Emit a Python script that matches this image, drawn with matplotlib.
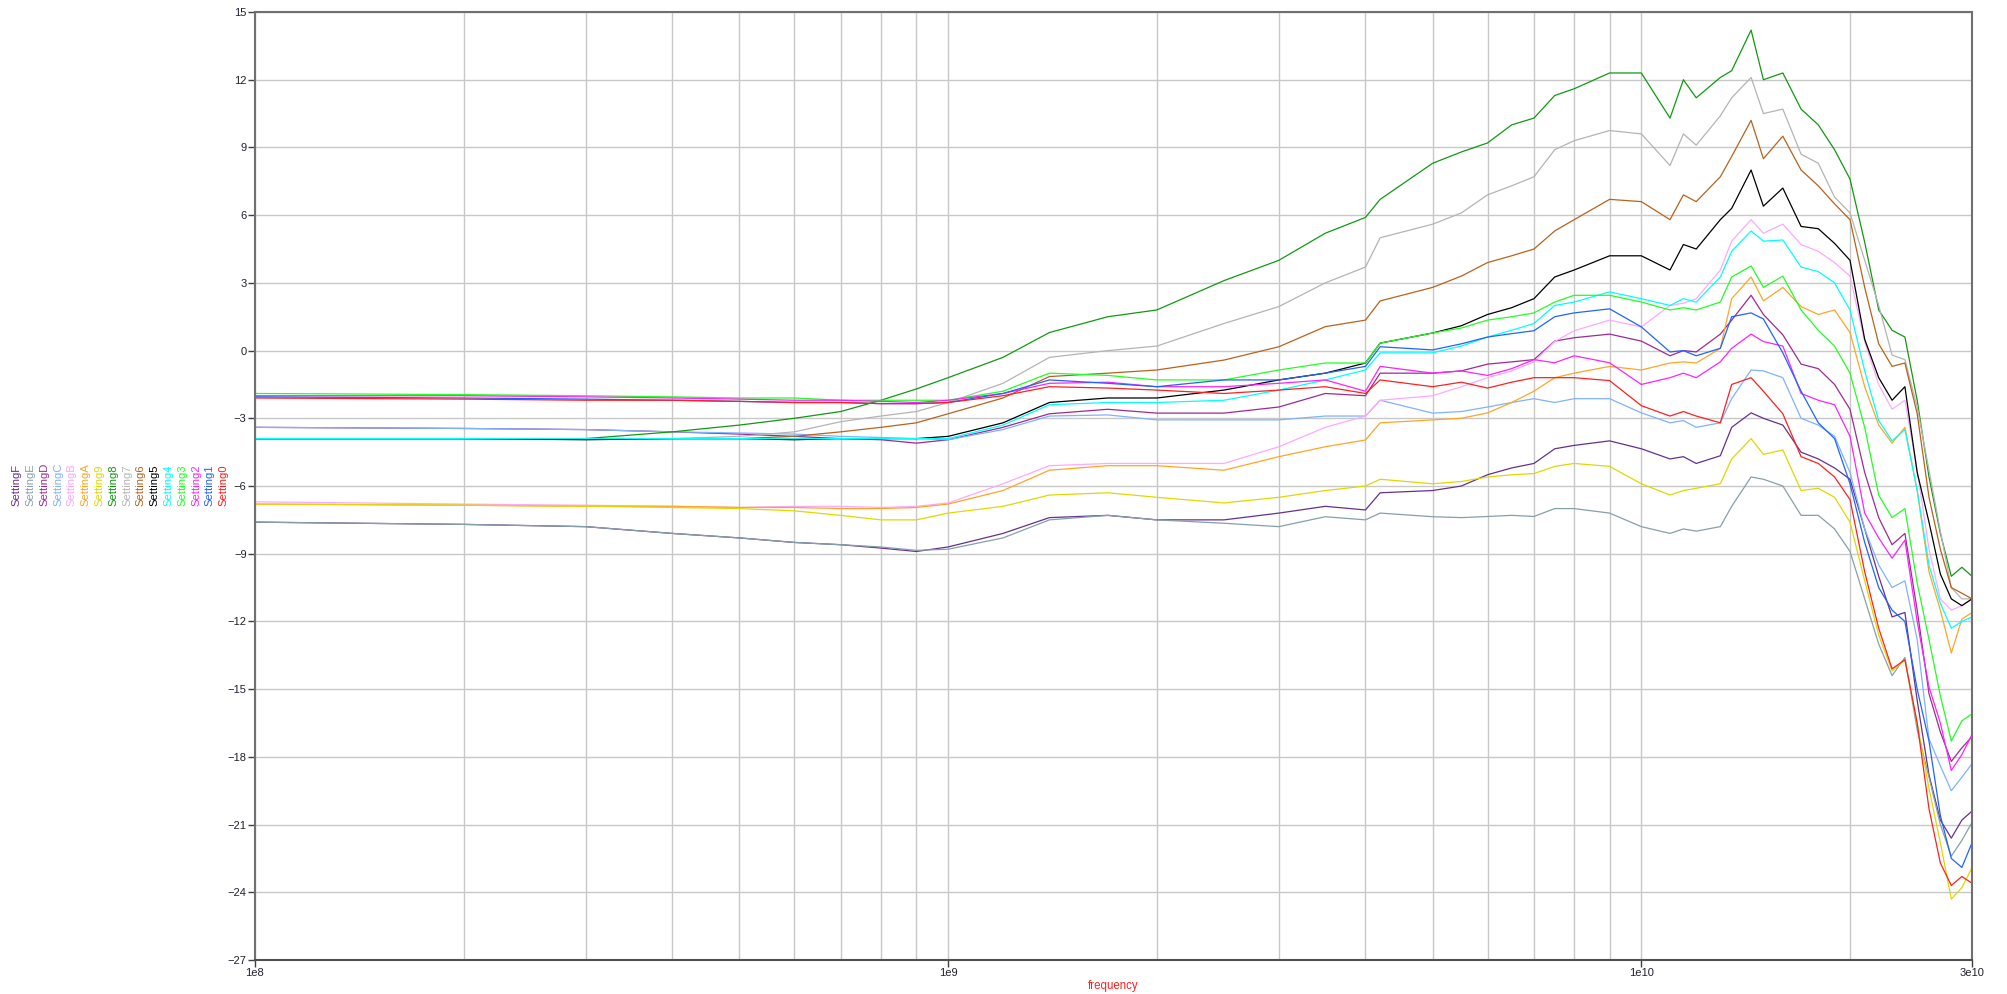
import numpy as np
import matplotlib.pyplot as plt
from matplotlib.ticker import FixedLocator, NullFormatter, LogLocator

plt.rcParams['font.family'] = ['Liberation Sans', 'DejaVu Sans']

# frequency nodes (GHz)
freq_ghz = [0.1, 0.2, 0.3, 0.4, 0.5, 0.6, 0.7, 0.8, 0.9, 1.0,
            1.2, 1.4, 1.7, 2.0, 2.5, 3.0, 3.5, 4.0, 4.2, 5.0,
            5.5, 6.0, 6.5, 7.0, 7.5, 8.0, 9.0, 10, 11, 11.5,
            12, 13, 13.5, 14.4, 15, 16, 17, 18, 19, 20,
            21, 22, 23, 24, 25, 26, 27, 28, 29, 30]

setting0 = [-2.1, -2.15, -2.2, -2.2, -2.25, -2.3, -2.3, -2.35, -2.35, -2.3,
            -2.0, -1.6, -1.66, -1.75, -1.9, -1.75, -1.6, -1.9, -1.3, -1.6,
            -1.4, -1.66, -1.4, -1.2, -1.2, -1.2, -1.33, -2.44, -2.9, -2.7,
            -2.9, -3.2, -1.5, -1.2, -1.8, -2.8, -4.7, -5.0, -5.6, -6.6,
            -9.8, -12.3, -14.1, -13.7, -16.5, -20.3, -22.7, -23.7, -23.3, -23.6]
setting1 = [-2.05, -2.1, -2.15, -2.2, -2.25, -2.3, -2.3, -2.35, -2.35, -2.3,
            -1.9, -1.3, -1.45, -1.6, -1.3, -1.3, -1.0, -0.7, 0.17, 0.03,
            0.3, 0.6, 0.75, 0.88, 1.5, 1.67, 1.85, 1.05, -0.06, 0.0,
            -0.23, 0.1, 1.5, 1.67, 1.4, -0.1, -1.8, -3.2, -3.9, -5.9,
            -8.5, -10.5, -11.5, -12.0, -15.0, -17.3, -20.6, -22.5, -22.9, -21.8]
setting2 = [-2.0, -2.0, -2.05, -2.1, -2.15, -2.2, -2.2, -2.25, -2.3, -2.2,
            -1.9, -1.45, -1.4, -1.6, -1.6, -1.45, -1.3, -1.8, -0.7, -1.0,
            -0.9, -1.1, -0.8, -0.4, -0.54, -0.23, -0.54, -1.5, -1.2, -1.0,
            -1.2, -0.5, 0.1, 0.73, 0.4, 0.2, -1.9, -2.2, -2.4, -3.8,
            -7.2, -8.3, -9.2, -8.4, -12.0, -14.9, -16.5, -18.6, -17.9, -17.0]
setting3 = [-1.9, -1.95, -2.0, -2.05, -2.1, -2.1, -2.2, -2.2, -2.2, -2.2,
            -1.8, -1.0, -1.1, -1.3, -1.3, -0.86, -0.55, -0.55, 0.33, 0.78,
            1.0, 1.35, 1.5, 1.67, 2.15, 2.45, 2.45, 2.15, 1.8, 1.9,
            1.8, 2.15, 3.26, 3.75, 2.8, 3.3, 1.8, 0.9, 0.2, -1.0,
            -3.4, -6.4, -7.4, -7.0, -10.3, -12.8, -15.3, -17.3, -16.4, -16.1]
setting4 = [-3.9, -3.9, -3.9, -3.9, -3.9, -3.9, -3.9, -3.9, -3.9, -3.9,
            -3.3, -2.4, -2.3, -2.3, -2.2, -1.75, -1.3, -0.86, -0.1, -0.1,
            0.2, 0.6, 0.9, 1.2, 2.0, 2.15, 2.6, 2.3, 2.0, 2.3,
            2.15, 3.26, 4.4, 5.3, 4.85, 4.9, 3.7, 3.5, 3.0, 1.8,
            -0.9, -3.1, -4.0, -3.5, -6.2, -9.5, -11.2, -12.3, -12.0, -11.8]
setting5 = [-3.9, -3.9, -3.95, -3.9, -3.9, -3.95, -3.9, -3.9, -3.9, -3.8,
            -3.2, -2.3, -2.1, -2.1, -1.75, -1.3, -1.0, -0.55, 0.33, 0.78,
            1.1, 1.6, 1.9, 2.3, 3.26, 3.57, 4.2, 4.2, 3.57, 4.7,
            4.5, 5.8, 6.3, 8.0, 6.4, 7.2, 5.5, 5.4, 4.75, 4.0,
            0.5, -1.2, -2.2, -1.6, -5.4, -7.6, -9.9, -11.0, -11.3, -11.0]
setting6 = [-3.9, -3.9, -3.9, -3.9, -3.9, -3.8, -3.6, -3.4, -3.2, -2.8,
            -2.1, -1.15, -1.0, -0.86, -0.42, 0.17, 1.06, 1.35, 2.2, 2.8,
            3.3, 3.9, 4.2, 4.5, 5.3, 5.8, 6.7, 6.6, 5.8, 6.9,
            6.6, 7.7, 8.6, 10.2, 8.5, 9.5, 8.0, 7.3, 6.5, 5.8,
            2.8, 0.3, -0.7, -0.55, -2.8, -6.5, -8.8, -10.5, -10.75, -11.0]
setting7 = [-3.9, -3.9, -3.9, -3.9, -3.8, -3.6, -3.15, -2.9, -2.7, -2.3,
            -1.45, -0.3, 0.0, 0.2, 1.2, 1.95, 3.0, 3.7, 5.0, 5.6,
            6.1, 6.9, 7.3, 7.7, 8.9, 9.3, 9.75, 9.6, 8.2, 9.6,
            9.1, 10.4, 11.2, 12.1, 10.5, 10.7, 8.7, 8.3, 6.8, 6.1,
            4.0, 2.0, -0.2, -0.4, -2.5, -5.3, -8.0, -10.5, -11.0, -11.0]
setting8 = [-3.9, -3.9, -3.9, -3.6, -3.3, -3.0, -2.7, -2.2, -1.7, -1.2,
            -0.3, 0.8, 1.5, 1.8, 3.1, 4.0, 5.2, 5.9, 6.7, 8.3,
            8.8, 9.2, 10.0, 10.3, 11.3, 11.6, 12.3, 12.3, 10.3, 12.0,
            11.2, 12.1, 12.4, 14.2, 12.0, 12.3, 10.7, 10.0, 8.9, 7.6,
            4.8, 1.8, 0.9, 0.6, -2.2, -5.6, -8.1, -10.0, -9.6, -10.0]
setting9 = [-6.8, -6.85, -6.9, -6.95, -7.0, -7.1, -7.3, -7.5, -7.5, -7.2,
            -6.9, -6.4, -6.3, -6.5, -6.75, -6.5, -6.2, -6.0, -5.7, -5.9,
            -5.8, -5.6, -5.5, -5.45, -5.13, -5.0, -5.13, -5.9, -6.4, -6.2,
            -6.1, -5.9, -4.8, -3.9, -4.6, -4.4, -6.2, -6.1, -6.5, -7.6,
            -10.2, -12.6, -14.2, -13.7, -16.5, -19.4, -21.8, -24.3, -23.8, -22.9]
settingA = [-6.8, -6.85, -6.9, -6.9, -6.95, -6.95, -7.0, -7.0, -6.95, -6.8,
            -6.2, -5.3, -5.1, -5.1, -5.3, -4.7, -4.26, -3.96, -3.2, -3.07,
            -3.0, -2.76, -2.3, -1.8, -1.2, -1.0, -0.7, -0.86, -0.55, -0.5,
            -0.55, 0.1, 2.3, 3.26, 2.2, 2.8, 1.95, 1.6, 1.8, 0.8,
            -1.6, -3.3, -4.1, -3.4, -6.2, -9.8, -11.5, -13.4, -11.9, -11.6]
settingB = [-6.7, -6.8, -6.85, -6.9, -6.95, -6.9, -6.9, -6.95, -6.9, -6.75,
            -5.9, -5.1, -5.0, -5.0, -5.0, -4.26, -3.4, -2.9, -2.2, -2.0,
            -1.6, -1.2, -0.9, -0.5, 0.4, 0.88, 1.35, 1.05, 2.0, 2.1,
            2.3, 3.57, 4.85, 5.8, 5.2, 5.6, 4.7, 4.4, 3.9, 3.3,
            0.4, -1.5, -2.6, -2.2, -5.3, -8.8, -11.0, -11.5, -11.3, -11.0]
settingC = [-3.4, -3.45, -3.5, -3.6, -3.65, -3.7, -3.8, -3.85, -3.9, -3.95,
            -3.5, -2.9, -2.85, -3.07, -3.07, -3.07, -2.9, -2.9, -2.2, -2.77,
            -2.7, -2.5, -2.3, -2.13, -2.3, -2.13, -2.13, -2.76, -3.2, -3.1,
            -3.4, -3.2, -2.13, -0.86, -0.9, -1.2, -3.0, -3.3, -3.8, -5.4,
            -7.9, -9.5, -10.5, -10.2, -12.8, -17.2, -18.4, -19.5, -18.9, -18.3]
settingD = [-3.4, -3.45, -3.5, -3.6, -3.7, -3.8, -3.9, -3.95, -4.1, -3.95,
            -3.4, -2.8, -2.6, -2.77, -2.77, -2.5, -1.9, -2.0, -1.0, -1.0,
            -0.9, -0.6, -0.5, -0.4, 0.42, 0.57, 0.73, 0.42, -0.23, 0.0,
            -0.06, 0.73, 1.35, 2.45, 1.6, 0.7, -0.6, -0.8, -1.5, -2.6,
            -5.4, -7.4, -8.6, -8.1, -11.5, -15.2, -16.9, -18.2, -17.6, -17.1]
settingE = [-7.6, -7.7, -7.8, -8.1, -8.3, -8.5, -8.6, -8.7, -8.85, -8.8,
            -8.3, -7.5, -7.3, -7.5, -7.65, -7.8, -7.36, -7.5, -7.2, -7.36,
            -7.4, -7.35, -7.3, -7.35, -7.0, -7.0, -7.2, -7.8, -8.1, -7.9,
            -8.0, -7.8, -6.9, -5.6, -5.7, -6.0, -7.3, -7.3, -7.9, -8.9,
            -11.0, -13.0, -14.4, -13.6, -16.8, -18.9, -21.0, -22.4, -21.7, -20.9]
settingF = [-7.6, -7.7, -7.8, -8.1, -8.3, -8.5, -8.6, -8.75, -8.9, -8.7,
            -8.1, -7.4, -7.3, -7.5, -7.5, -7.2, -6.9, -7.06, -6.3, -6.2,
            -6.0, -5.5, -5.2, -5.0, -4.35, -4.2, -4.0, -4.35, -4.8, -4.7,
            -5.0, -4.66, -3.4, -2.76, -3.0, -3.3, -4.5, -4.8, -5.2, -5.7,
            -7.9, -10.0, -11.8, -11.6, -15.5, -18.8, -20.8, -21.6, -20.8, -20.4]

# legend order as shown on the left (left to right)
names = ['SettingF', 'SettingE', 'SettingD', 'SettingC', 'SettingB', 'SettingA',
         'Setting9', 'Setting8', 'Setting7', 'Setting6', 'Setting5', 'Setting4',
         'Setting3', 'Setting2', 'Setting1', 'Setting0']
series = [settingF, settingE, settingD, settingC, settingB, settingA,
          setting9, setting8, setting7, setting6, setting5, setting4,
          setting3, setting2, setting1, setting0]
colors = ['#66308F', '#86A0AA', '#9E2A94', '#7FB2FF', '#FFA8FF', '#FFA526',
          '#E0D800', '#119911', '#B4B4B4', '#B8621B', '#000000', '#00FFFF',
          '#22FF22', '#FF22FF', '#1E64FF', '#FF2020']

freq = np.array(freq_ghz) * 1e9

fig = plt.figure(figsize=(20.07, 9.94), dpi=100)
ax = fig.add_axes([0.127, 0.0342, 0.8556, 0.9537])

for vals, col in zip(series, colors):
    ax.plot(freq, vals, color=col, lw=0.9)

ax.set_xscale('log')
ax.set_xlim(1e8, 3e10)
ax.set_ylim(-27, 15)

ax.xaxis.set_major_locator(FixedLocator([1e8, 1e9, 1e10, 3e10]))
ax.set_xticklabels(['1e8', '1e9', '1e10', '3e10'])
ax.xaxis.set_minor_locator(LogLocator(base=10, subs=np.arange(2, 10)))
ax.xaxis.set_minor_formatter(NullFormatter())
ax.set_yticks(np.arange(-27, 16, 3))

ax.grid(True, which='both', axis='x', color='#C8C8C8', lw=1.0)
ax.grid(True, which='major', axis='y', color='#C8C8C8', lw=1.0)
ax.set_axisbelow(True)

ax.tick_params(axis='both', which='major', direction='out', length=5,
               width=1, color='#404040', labelsize=8, labelcolor='#202030', pad=1)
ax.tick_params(axis='x', which='minor', length=0)

for side in ['left', 'right', 'top', 'bottom']:
    ax.spines[side].set_color('#707070')
    ax.spines[side].set_linewidth(1.5)
ax.spines['bottom'].set_color('#505050')

ax.set_xlabel('frequency', color='#FF2020', fontsize=8.3, labelpad=1)

# vertical legend on the left
x0 = 16.7 / 2007
dx = 13.8 / 2007
for i, (name, col) in enumerate(zip(names, colors)):
    fig.text(x0 + i * dx, 0.491, name, rotation=90, color=col, fontsize=8.1,
             ha='center', va='bottom')

fig.savefig('out.png', dpi=100)
